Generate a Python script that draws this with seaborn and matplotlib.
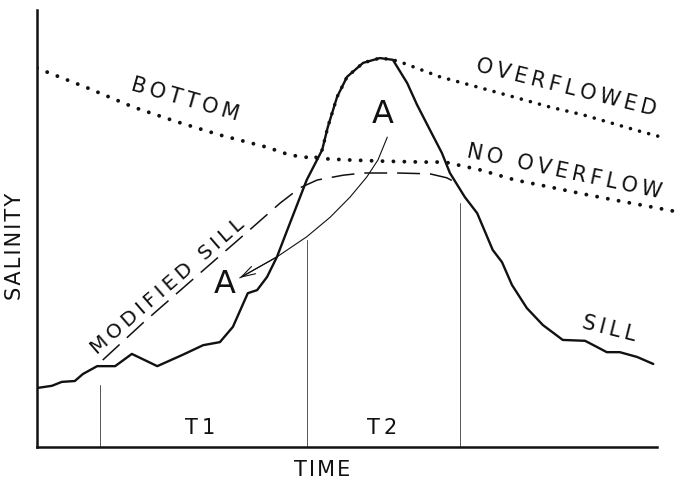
import matplotlib
matplotlib.use("Agg")
import matplotlib.pyplot as plt
import seaborn as sns

# ---- data (time 0-100, salinity 0-100) ----
sill_t = [0, 2.4, 4.0, 6.1, 7.4, 9.7, 12.6, 15.3, 19.4, 23.5, 26.8, 29.5, 31.6, 34.0,
          35.5, 37.1, 38.7, 40.3, 43.5, 46.0, 46.9, 48.4, 50.0, 52.6, 55.3, 57.4,
          59.7, 61.3, 63.4, 65.3, 66.6, 69.0, 71.0, 73.5, 75.0, 76.6, 79.0, 81.6,
          84.8, 88.4, 90.3, 91.9, 94.0, 96.8, 99.4]
sill_s = [13.5, 14.0, 14.9, 15.1, 16.7, 18.5, 18.5, 21.3, 18.5, 21.1, 23.3, 24.0, 27.5, 35.2,
          35.9, 38.9, 43.5, 49.4, 61.1, 68.0, 73.2, 80.1, 84.7, 87.9, 89.0, 88.6,
          83.3, 78.3, 72.5, 67.3, 62.7, 57.2, 53.5, 45.1, 42.3, 37.1, 31.8, 27.9,
          24.5, 24.3, 22.9, 21.7, 21.7, 20.6, 19.0]

bottom_t = [0, 8.1, 15.5, 22.6, 29.5, 37.1, 40.8, 44.5, 50.0, 56.1, 62.3, 65.8,
            71.5, 77.1, 82.7, 88.1, 93.2, 98.5, 102.6]
bottom_s = [86.7, 82.2, 77.8, 74.4, 71.4, 68.6, 66.8, 66.1, 65.7, 65.4, 65.2, 65.2,
            63.4, 61.1, 59.5, 57.9, 56.5, 55.1, 54.0]

over_t = [45.0, 46.0, 46.9, 48.4, 50.0, 52.6, 55.3, 57.4, 59.0, 65.0, 71.5, 77.4,
          82.7, 88.1, 93.7, 97.6, 101.3]
over_s = [66.3, 68.0, 73.2, 80.1, 84.7, 87.9, 89.0, 88.6, 87.9, 84.7, 82.2, 79.9,
          77.8, 76.0, 73.7, 72.1, 70.7]

mod_t = [10.6, 17.1, 26.3, 34.8, 39.2, 42.4, 45.2, 49.4, 52.6, 58.1, 63.4, 66.1, 67.7]
mod_s = [19.9, 28.4, 39.8, 50.3, 55.8, 59.3, 61.1, 62.2, 62.7, 62.7, 62.5, 61.6, 60.4]

arrow_t = [56.5, 55.0, 53.2, 50.5, 47.3, 43.5, 38.7, 32.7]
arrow_s = [70.9, 65.7, 61.8, 57.2, 52.6, 48.1, 43.5, 38.7]

period_t = [10.2, 43.5, 68.2]
period_top = [14.2, 47.4, 55.8]

labels = ["BOTTOM", "OVERFLOWED", "NO OVERFLOW", "MODIFIED SILL", "SILL", "A", "A", "T1", "T2"]
label_t = [23.9, 85.3, 85.0, 21.0, 92.3, 55.8, 30.3, 26.3, 55.6]
label_s = [79.4, 82.2, 62.9, 36.8, 27.0, 76.0, 37.1, 4.3, 4.3]
label_rot = [-16, -14, -12, 41, -14, 0, 0, 0, 0]
label_size = [15, 15, 15, 14.5, 15, 23, 23, 15, 15]

sns.set_style("white")
plt.rcParams["font.family"] = ["DejaVu Sans"]

fig = plt.figure(figsize=(6.76, 4.83), dpi=100)
ax = fig.add_axes([37 / 676, 36 / 483, 638.6 / 676, 437 / 483])

ink = "#111111"

def spaced(s, sep="\u2009"):
    return sep.join(list(s))

# sill curve
sns.lineplot(x=sill_t, y=sill_s, ax=ax, sort=False, estimator=None,
             color=ink, linewidth=1.7)
# modified sill (dashed)
sns.lineplot(x=mod_t, y=mod_s, ax=ax, sort=False, estimator=None,
             color=ink, linewidth=1.1, linestyle=(0, (15, 6.5)))
# bottom / no overflow (dotted)
sns.lineplot(x=bottom_t, y=bottom_s, ax=ax, sort=False, estimator=None,
             color=ink, linewidth=2.8, linestyle=(0, (0.01, 2.8)),
             dash_capstyle="round")
# overflowed (dotted)
sns.lineplot(x=over_t, y=over_s, ax=ax, sort=False, estimator=None,
             color=ink, linewidth=2.6, linestyle=(0, (0.01, 2.6)),
             dash_capstyle="round")
# arrow curve
sns.lineplot(x=arrow_t, y=arrow_s, ax=ax, sort=False, estimator=None,
             color=ink, linewidth=0.8)
ax.annotate("", xy=(arrow_t[-1], arrow_s[-1]), xytext=(arrow_t[-2], arrow_s[-2]),
            arrowprops=dict(arrowstyle="->,head_length=1.0,head_width=0.3",
                            color=ink, lw=0.8, shrinkA=0, shrinkB=0))

# period markers
for t, top in zip(period_t, period_top):
    ax.plot([t, t], [0, top], color="#555555", linewidth=0.7)

for txt, t, s, r, fs in zip(labels, label_t, label_s, label_rot, label_size):
    ax.text(t, s, spaced(txt) if len(txt) > 1 else txt, rotation=r,
            rotation_mode="anchor", ha="center", va="center",
            fontsize=fs, color=ink)

ax.set_xlim(0, 103)
ax.set_ylim(0, 100)
ax.set_xticks([])
ax.set_yticks([])
for side in ["top", "right"]:
    ax.spines[side].set_visible(False)
for side in ["left", "bottom"]:
    ax.spines[side].set_color(ink)
    ax.spines[side].set_linewidth(1.8)
ax.spines["bottom"].set_bounds(0, 100)
ax.set_xlabel(spaced("TIME", "\u200a"), fontsize=15, color=ink)
ax.set_ylabel(spaced("SALINITY", "\u200a"), fontsize=15, color=ink)
ax.xaxis.set_label_coords(0.446, -0.030)
ax.yaxis.set_label_coords(-0.019, 0.458)

fig.savefig("out.png", dpi=100)
